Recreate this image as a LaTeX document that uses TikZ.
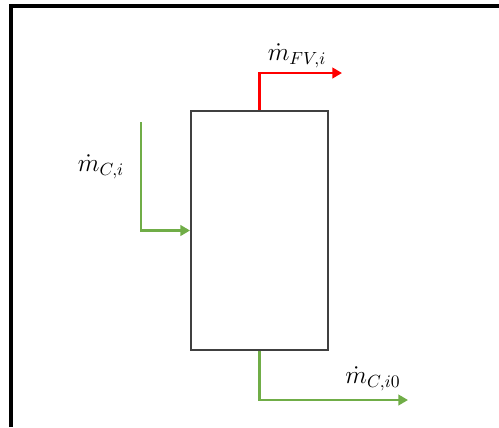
\documentclass[tikz,border=0pt]{standalone}
\usepackage{amsmath}
\usetikzlibrary{arrows.meta}

\definecolor{flowgreen}{RGB}{112,173,71}
\definecolor{boxgray}{RGB}{64,64,64}

\begin{document}
\begin{tikzpicture}[x=0.02cm, y=-0.02cm,
  flow/.style={line width=1.5pt, -{Triangle[length=5.5pt,width=6pt]}},
  lbl/.style={font=\Large}]
  \useasboundingbox (0,0) rectangle (499,427);
  \draw[line width=2pt] (11,427) -- (11,6) -- (499,6);

  \node[draw=boxgray, line width=1.1pt, minimum width=2.74cm, minimum height=4.78cm,
        inner sep=0pt] (drum) at (259.5,230.5) {};

  \coordinate (vapOut) at (342,73);
  \coordinate (feedIn) at (141,122);
  \coordinate (liqOut) at (408,400);

  \draw[flow, red] (drum.north) |- (vapOut);
  \draw[flow, flowgreen] (feedIn) |- (drum.west);
  \draw[flow, flowgreen] (drum.south) |- (liqOut);

  % stream labels
  \node[lbl] (vapLbl)  at (297,56)  {$\dot{m}_{FV,i}$};
  \node[lbl] (feedLbl) at (101,167) {$\dot{m}_{C,i}$};
  \node[lbl] (liqLbl)  at (373,379) {$\dot{m}_{C,i0}$};
\end{tikzpicture}
\end{document}
